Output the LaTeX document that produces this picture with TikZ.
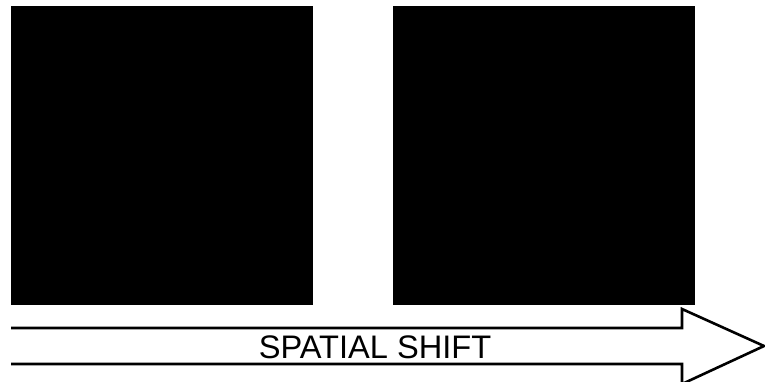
\documentclass[tikz,border=0pt]{standalone}
\usepackage{fontspec}
\setmainfont{Liberation Sans}
\begin{document}
\begin{tikzpicture}[x=1pt,y=-1pt,
  panel/.style={fill=black,draw=none,minimum width=302pt,minimum height=299pt,inner sep=0pt,outer sep=0pt,anchor=north west},
  arrowline/.style={line width=2.6pt,line join=miter,black},
  label/.style={font=\fontsize{32.6}{36}\selectfont,inner sep=0pt,anchor=base}]
\useasboundingbox (0,0) rectangle (765,381);
\node[panel] (left) at (11,6) {};
\node[panel] (right) at (393,6) {};
\coordinate (tailtop) at (11,328);
\coordinate (tailbot) at (11,364);
\coordinate (neckt) at (682,328);
\coordinate (neckb) at (682,364);
\coordinate (barbt) at (682,309);
\coordinate (barbb) at (682,384);
\coordinate (tip) at (764,346);
\draw[arrowline] (tailtop) -- (neckt) -- (barbt) -- (tip) -- (barbb) -- (neckb) -- (tailbot);
\node[label] (txt) at (375,358.5) {SPATIAL SHIFT};
\end{tikzpicture}
\end{document}
